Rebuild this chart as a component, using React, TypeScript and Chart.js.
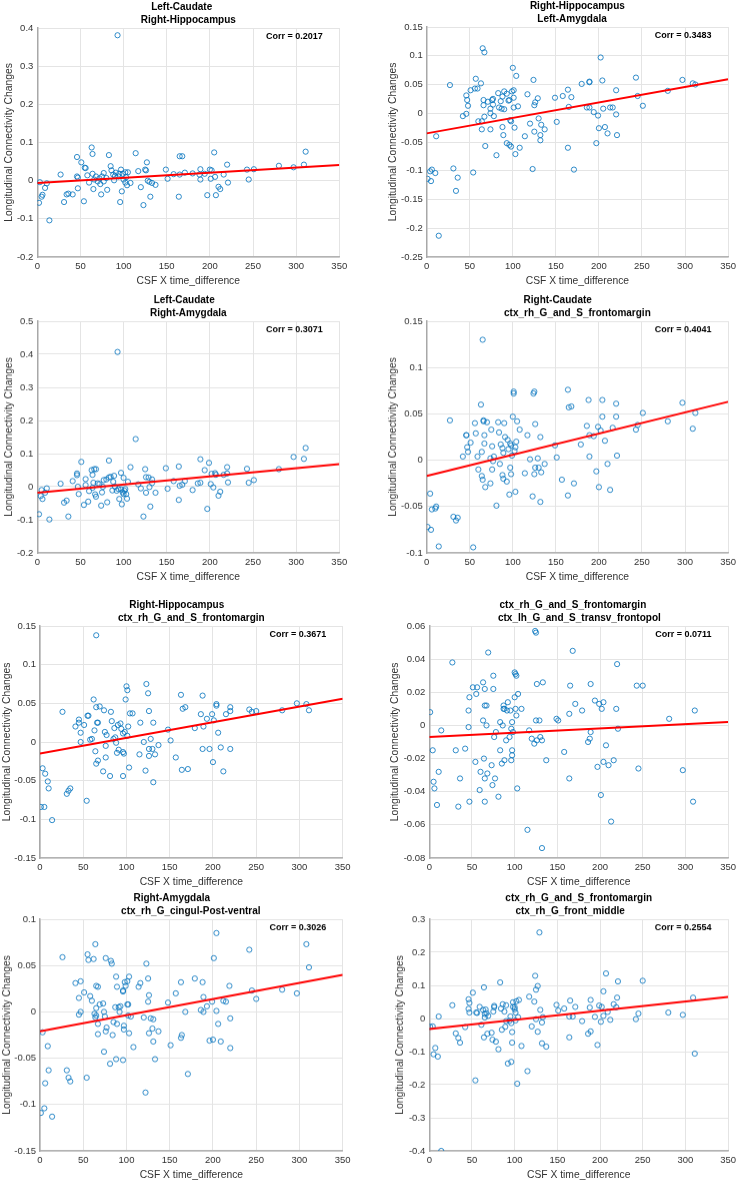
import React, { useEffect, useRef } from "react";
import { Chart, registerables } from "chart.js";

Chart.register(...registerables);

const FONT = '"Liberation Sans", Arial, Helvetica, sans-serif';
const X_LABEL = "CSF X time_difference";
const Y_LABEL = "Longitudinal Connectivity Changes";
const X_TICKS = [0, 50, 100, 150, 200, 250, 300, 350];
const FIT_X = [0, 350];

// ---------- Panel 1 ----------
const P1_TITLE = ["Left-Caudate", "Right-Hippocampus"];
const P1_CORR = "Corr = 0.2017";
const P1_Y_TICKS = [-0.2, -0.1, 0, 0.1, 0.2, 0.3, 0.4];
const P1_FIT = [-0.006, 0.041];
const P1_POINTS: [number, number][] = [
  [2, -0.058], [3, -0.004], [5, -0.042], [6, -0.037], [9, -0.019], [11, -0.007], [14, -0.104],
  [27, 0.016], [31, -0.056], [34, -0.036], [36, -0.034], [41, -0.036], [46, 0.062], [46, 0.011],
  [47, 0.008], [47, -0.02], [51, 0.048], [54, -0.054], [55, 0.034], [56, 0.033], [58, 0.014],
  [60, -0.005], [63, 0.087], [64, 0.07], [64, 0.018], [65, -0.022], [66, 0.003], [68, 0.011],
  [70, -0.002], [73, -0.009], [74, -0.036], [75, 0.011], [77, 0.02], [77, -0.002], [80, 0.007],
  [81, -0.024], [83, 0.067], [85, 0.038], [86, 0.027], [88, 0.016], [89, 0.001], [91, 0.021],
  [93, 0.381], [94, 0.011], [96, -0.056], [97, 0.029], [98, -0.028], [99, 0.018], [100, 0.003],
  [102, -0.005], [102, 0.022], [104, -0.012], [105, 0.022], [108, -0.006], [114, 0.072],
  [117, 0.025], [120, -0.017], [123, -0.064], [125, 0.029], [126, 0.027], [127, 0.048], [128, 0],
  [130, -0.003], [131, -0.042], [133, -0.006], [137, -0.011], [149, 0.029], [151, 0.005],
  [158, 0.017], [164, -0.042], [165, 0.064], [168, 0.064], [165, 0.016], [171, 0.021], [180, 0.019],
  [188, 0.016], [189, 0.03], [189, 0.003], [194, 0.018], [197, -0.038], [200, 0.029], [201, 0.005],
  [202, 0.027], [205, 0.074], [206, 0.01], [207, -0.038], [210, -0.016], [212, -0.022], [216, 0.016],
  [220, 0.042], [221, -0.005], [243, 0.029], [245, 0.003], [251, 0.03], [280, 0.039], [297, 0.035],
  [309, 0.042], [311, 0.076], [72, 0.006], [90, 0.012], [95, 0.018], [103, 0.009],
];

// ---------- Panel 2 ----------
const P2_TITLE = ["Right-Hippocampus", "Left-Amygdala"];
const P2_CORR = "Corr = 0.3483";
const P2_Y_TICKS = [-0.25, -0.2, -0.15, -0.1, -0.05, 0, 0.05, 0.1, 0.15];
const P2_FIT = [-0.035, 0.059];
const P2_POINTS: [number, number][] = [
  [1, -0.114], [4, -0.101], [5, -0.118], [6, -0.098], [10, -0.104], [11, -0.04], [14, -0.213],
  [27, 0.049], [31, -0.096], [34, -0.135], [36, -0.112], [42, -0.005], [46, 0.031], [46, -0.001],
  [47, 0.023], [48, 0.013], [51, 0.04], [54, -0.103], [56, 0.043], [57, 0.06], [59, 0.043],
  [60, -0.014], [63, 0.052], [64, -0.014], [64, -0.028], [65, 0.113], [66, 0.023], [66, 0.014],
  [67, 0.106], [68, -0.057], [67, -0.006], [71, 0.02], [74, 0], [74, -0.028], [74, 0.008],
  [76, 0.023], [77, 0.025], [77, 0.015], [78, -0.005], [81, -0.073], [83, 0.035], [84, 0.01],
  [86, 0.021], [87, 0.008], [88, 0.029], [88, -0.024], [89, -0.038], [90, 0.038], [90, 0.007],
  [93, 0.034], [93, -0.052], [95, 0.022], [96, 0.023], [96, -0.055], [97, -0.012], [98, -0.014],
  [98, -0.058], [99, 0.038], [100, 0.079], [101, 0.04], [101, 0.027], [101, 0.01], [102, -0.025],
  [103, -0.071], [104, 0.065], [106, 0.012], [108, -0.06], [114, -0.04], [117, 0.033], [120, -0.018],
  [123, -0.097], [124, 0.058], [125, -0.032], [125, 0.014], [126, 0.019], [129, 0.026], [130, -0.009],
  [132, -0.047], [132, -0.038], [133, -0.02], [137, -0.028], [149, 0.027], [151, -0.015], [158, 0.03],
  [164, 0.041], [164, -0.06], [165, 0.011], [168, 0.028], [171, -0.098], [180, 0.051], [186, 0.01],
  [189, 0.055], [189, 0.054], [189, 0.01], [194, 0.002], [197, -0.052], [199, -0.004], [200, -0.026],
  [202, 0.097], [204, 0.057], [205, 0.008], [207, -0.024], [210, -0.035], [213, 0.01], [216, 0.01],
  [220, 0.04], [220, -0.002], [221, -0.038], [243, 0.062], [245, 0.03], [251, 0.013], [280, 0.039],
  [297, 0.058], [309, 0.052], [312, 0.05],
];

// ---------- Panel 3 ----------
const P3_TITLE = ["Left-Caudate", "Right-Amygdala"];
const P3_CORR = "Corr = 0.3071";
const P3_Y_TICKS = [-0.2, -0.1, 0, 0.1, 0.2, 0.3, 0.4, 0.5];
const P3_FIT = [-0.018, 0.068];
const P3_POINTS: [number, number][] = [
  [2, -0.083], [4, -0.028], [5, -0.01], [6, -0.037], [9, -0.018], [11, -0.005], [14, -0.099],
  [27, 0.009], [31, -0.048], [34, -0.042], [36, -0.09], [41, 0.017], [46, 0.04], [46, 0.035],
  [47, 0], [48, -0.022], [51, 0.075], [54, -0.055], [56, 0.005], [56, 0.023], [59, -0.045],
  [60, -0.013], [63, 0.05], [64, -0.003], [64, 0.036], [65, 0.012], [66, 0.053], [67, -0.023],
  [68, 0.053], [68, -0.03], [70, 0.01], [74, -0.057], [75, -0.017], [76, 0], [77, 0.02], [80, 0.022],
  [81, -0.047], [83, 0.028], [83, 0.079], [85, 0.03], [87, -0.011], [88, 0.015], [89, 0.033], [90, 0],
  [93, 0.407], [94, -0.007], [95, -0.037], [97, -0.008], [97, 0.042], [98, -0.053], [99, -0.017],
  [100, 0.027], [100, -0.022], [102, -0.007], [103, -0.022], [104, -0.036], [105, 0.015], [108, 0.059],
  [114, 0.144], [117, 0.007], [120, -0.005], [123, -0.09], [125, 0.053], [126, 0.029], [126, -0.018],
  [129, 0.028], [130, -0.001], [131, -0.06], [133, 0.022], [133, 0.011], [137, -0.018], [149, 0.056],
  [151, -0.006], [158, 0.017], [164, 0.061], [164, -0.04], [165, 0.003], [168, 0.006], [171, 0.017],
  [180, -0.01], [186, 0.01], [189, 0.083], [189, 0.012], [194, 0.05], [197, -0.067], [199, 0.072],
  [201, 0.008], [202, 0.039], [204, -0.002], [206, 0.041], [207, 0.036], [210, -0.027], [212, -0.015],
  [216, 0.036], [220, 0.059], [220, 0.04], [221, 0.013], [243, 0.054], [245, 0.012], [251, 0.02],
  [280, 0.053], [297, 0.09], [309, 0.084], [311, 0.117], [72, 0.008], [92, -0.012], [101, -0.012],
];

// ---------- Panel 4 ----------
const P4_TITLE = ["Right-Caudate", "ctx_rh_G_and_S_frontomargin"];
const P4_CORR = "Corr = 0.4041";
const P4_Y_TICKS = [-0.1, -0.05, 0, 0.05, 0.1, 0.15];
const P4_FIT = [-0.017, 0.063];
const P4_POINTS: [number, number][] = [
  [1, -0.072], [4, -0.036], [5, -0.075], [6, -0.053], [10, -0.052], [11, -0.05], [14, -0.093],
  [27, 0.043], [31, -0.061], [34, -0.065], [36, -0.062], [42, 0.004], [46, 0.027], [46, 0.027],
  [47, 0.014], [48, 0.009], [51, 0.019], [54, -0.094], [56, 0.04], [57, 0.029], [59, 0.004],
  [60, -0.01], [63, 0.06], [64, 0.009], [64, -0.017], [65, -0.021], [65, 0.13], [66, 0.043],
  [66, 0.042], [67, 0.027], [67, 0.018], [68, -0.029], [70, 0.041], [74, 0.002], [74, -0.025],
  [75, 0.033], [76, 0.015], [76, -0.01], [77, -0.001], [78, 0.004], [81, -0.049], [83, 0.041],
  [84, 0.03], [85, -0.004], [86, 0.017], [88, 0.013], [88, -0.016], [89, -0.02], [89, 0.008],
  [90, 0.04], [91, 0.025], [93, -0.023], [94, 0.022], [95, 0.012], [96, -0.037], [97, 0.018],
  [97, -0.008], [98, -0.015], [98, 0.016], [99, 0.005], [100, 0.047], [101, 0.072], [101, 0.074],
  [102, 0.01], [103, 0.014], [103, -0.034], [104, 0.02], [105, 0.042], [108, 0.033], [114, -0.014],
  [117, 0.027], [120, 0.001], [123, -0.039], [124, 0.072], [125, 0.074], [125, -0.015], [126, 0.039],
  [126, -0.008], [129, 0.002], [130, -0.008], [132, -0.045], [132, 0.025], [133, -0.013], [137, -0.004],
  [149, 0.016], [151, 0.003], [157, -0.021], [164, 0.076], [164, -0.038], [165, 0.057], [168, 0.058],
  [171, -0.025], [179, 0.017], [186, 0.037], [188, 0.065], [189, 0.027], [189, 0.004], [194, 0.026],
  [197, -0.012], [199, 0.036], [200, -0.029], [202, 0.032], [204, 0.065], [204, 0.047], [207, 0.021],
  [210, -0.004], [213, -0.032], [216, 0.035], [220, 0.061], [220, 0.047], [221, 0.005], [243, 0.033],
  [245, 0.038], [251, 0.051], [280, 0.042], [297, 0.062], [309, 0.034], [312, 0.051],
];

// ---------- Panel 5 ----------
const P5_TITLE = ["Right-Hippocampus", "ctx_rh_G_and_S_frontomargin"];
const P5_CORR = "Corr = 0.3671";
const P5_Y_TICKS = [-0.15, -0.1, -0.05, 0, 0.05, 0.1, 0.15];
const P5_FIT = [-0.015, 0.056];
const P5_POINTS: [number, number][] = [
  [1, -0.084], [3, -0.034], [5, -0.084], [6, -0.041], [9, -0.051], [10, -0.06], [14, -0.101],
  [26, 0.039], [31, -0.067], [33, -0.063], [35, -0.06], [41, 0.02], [45, 0.029], [45, 0.025],
  [47, 0.012], [47, 0], [51, 0.022], [54, -0.076], [55, 0.034], [56, 0.034], [58, 0.003], [60, 0.004],
  [62, 0.055], [63, 0.015], [64, -0.012], [65, 0.045], [65, 0.138], [65, -0.028], [66, 0.025],
  [67, 0.025], [67, -0.024], [69, 0.046], [73, -0.038], [74, 0.041], [75, 0.013], [76, -0.005],
  [76, -0.02], [77, 0.009], [81, -0.044], [82, 0.039], [83, 0.027], [85, 0.004], [86, 0.018],
  [87, 0.006], [88, -0.001], [89, -0.014], [90, 0.022], [91, -0.01], [93, 0.024], [94, 0.017],
  [96, -0.044], [96, 0.011], [96, -0.013], [97, -0.015], [98, 0.013], [99, 0.055], [100, 0.072],
  [101, 0.008], [101, 0.067], [102, 0.02], [103, -0.033], [104, 0.037], [107, 0.037], [115, -0.016],
  [116, 0.025], [120, 0], [122, -0.037], [123, 0.075], [125, 0.063], [126, -0.009], [126, 0.04],
  [126, -0.018], [128, 0.004], [130, -0.009], [131, 0.025], [131, -0.052], [133, -0.016], [137, -0.004],
  [148, 0.016], [151, 0.002], [157, -0.02], [163, 0.061], [164, -0.036], [165, 0.043], [168, 0.045],
  [171, -0.035], [179, 0.018], [186, 0.036], [188, 0.06], [189, 0.02], [188, -0.009], [193, 0.03],
  [196, -0.009], [199, 0.036], [200, -0.026], [201, 0.028], [204, 0.047], [204, 0.049], [206, 0.012],
  [209, -0.007], [212, -0.038], [215, 0.036], [220, 0.045], [220, 0.04], [220, -0.009], [242, 0.042],
  [245, 0.039], [250, 0.04], [280, 0.041], [297, 0.05], [308, 0.049], [311, 0.041],
];

// ---------- Panel 6 ----------
const P6_TITLE = ["ctx_rh_G_and_S_frontomargin", "ctx_lh_G_and_S_transv_frontopol"];
const P6_CORR = "Corr = 0.0711";
const P6_Y_TICKS = [-0.08, -0.06, -0.04, -0.02, 0, 0.02, 0.04, 0.06];
const P6_FIT = [-0.007, 0.002];
const P6_POINTS: [number, number][] = [
  [1, 0.008], [4, -0.015], [5, -0.034], [6, -0.038], [9, -0.048], [11, -0.028], [14, -0.003],
  [27, 0.038], [31, -0.015], [34, -0.049], [36, -0.032], [42, -0.014], [46, 0.009], [46, -0.001],
  [47, 0.017], [47, -0.046], [51, 0.023], [54, -0.022], [55, 0.019], [56, 0.023], [60, -0.028],
  [59, -0.039], [63, 0.026], [63, 0.003], [64, -0.02], [65, 0.022], [65, -0.032], [65, 0.012],
  [65, -0.046], [67, 0.012], [67, 0], [68, -0.029], [69, 0.044], [73, -0.024], [74, -0.036],
  [75, 0.022], [75, 0.03], [76, -0.007], [77, -0.032], [78, -0.004], [81, -0.043], [83, -0.015],
  [83, 0.002], [85, -0.023], [86, 0], [87, 0.01], [87, 0.012], [88, -0.021], [88, 0.01], [90, -0.009],
  [91, 0.009], [92, 0.014], [94, -0.007], [95, 0.009], [96, -0.002], [96, -0.021], [97, -0.018],
  [97, -0.015], [97, 0.002], [98, -0.004], [100, 0.017], [100, 0.032], [101, 0.01], [101, 0.031],
  [102, 0.006], [102, 0.03], [103, -0.038], [104, 0.019], [108, 0.01], [115, -0.063], [117, -0.003],
  [120, -0.008], [123, -0.011], [124, 0.057], [125, 0.003], [125, 0.056], [126, 0.025], [126, -0.009],
  [129, 0.003], [130, -0.007], [132, -0.074], [132, -0.009], [133, 0.026], [137, -0.021], [149, 0.004],
  [151, 0.003], [158, -0.016], [164, 0.007], [164, -0.032], [165, 0.024], [168, 0.045], [171, 0.013],
  [179, 0.009], [186, -0.01], [188, -0.008], [189, 0.025], [189, -0.004], [194, 0.015], [197, -0.025],
  [199, 0.013], [202, 0.01], [201, -0.042], [204, -0.022], [204, 0.014], [207, -0.012], [210, -0.024],
  [213, -0.058], [216, -0.021], [220, 0.037], [219, 0.01], [221, -0.002], [243, 0.024], [245, -0.026],
  [250, 0.024], [281, 0.004], [297, -0.027], [309, -0.046], [311, 0.009],
];

// ---------- Panel 7 ----------
const P7_TITLE = ["Right-Amygdala", "ctx_rh_G_cingul-Post-ventral"];
const P7_CORR = "Corr = 0.3026";
const P7_Y_TICKS = [-0.15, -0.1, -0.05, 0, 0.05, 0.1];
const P7_FIT = [-0.021, 0.04];
const P7_POINTS: [number, number][] = [
  [1, -0.109], [3, -0.022], [5, -0.104], [6, -0.077], [9, -0.037], [10, -0.063], [14, -0.113],
  [26, 0.059], [31, -0.063], [33, -0.071], [35, -0.075], [41, 0.031], [45, -0.003], [45, 0.015],
  [47, 0.033], [47, 0], [51, 0.021], [54, -0.071], [55, 0.062], [56, 0.056], [58, 0.017], [60, 0.012],
  [62, 0.057], [63, -0.002], [64, -0.006], [64, 0.073], [65, 0.028], [65, 0.004], [65, -0.004],
  [67, -0.024], [67, -0.013], [67, 0.027], [69, 0.008], [74, -0.043], [73, 0.009], [74, 0],
  [75, -0.005], [76, 0.058], [76, -0.021], [77, -0.017], [81, -0.056], [82, 0.055], [83, 0.052],
  [84, -0.025], [85, -0.011], [87, 0.005], [88, 0.038], [88, -0.051], [89, 0.027], [89, -0.013],
  [91, 0.005], [92, 0], [93, 0.006], [96, -0.052], [96, 0.023], [96, 0.022], [97, -0.019], [97, -0.015],
  [98, 0.032], [99, 0.028], [101, 0.033], [101, 0.008], [102, 0.008], [103, -0.023], [102, -0.004],
  [103, 0.038], [105, -0.005], [108, -0.038], [114, 0.027], [116, 0.031], [120, -0.006], [122, -0.087],
  [123, 0.052], [125, 0.036], [125, 0.011], [126, -0.023], [126, 0.018], [128, -0.007], [130, -0.018],
  [131, -0.008], [131, -0.032], [133, -0.051], [137, -0.021], [148, 0.01], [151, -0.036], [157, 0.02],
  [163, 0.032], [163, -0.028], [164, -0.025], [168, 0], [171, -0.067], [179, 0.036], [186, 0.002],
  [188, 0.032], [189, 0.016], [189, 0], [193, 0.006], [196, -0.031], [199, 0.011], [200, -0.03],
  [201, 0.058], [204, 0.085], [204, 0.001], [206, -0.013], [209, -0.032], [212, 0.012], [215, 0.011],
  [219, 0.028], [220, -0.039], [220, -0.007], [242, 0.067], [245, 0.023], [250, 0.014], [280, 0.024],
  [297, 0.02], [308, 0.073], [311, 0.048],
];

// ---------- Panel 8 ----------
const P8_TITLE = ["ctx_rh_G_and_S_frontomargin", "ctx_rh_G_front_middle"];
const P8_CORR = "Corr = 0.2554";
const P8_Y_TICKS = [-0.4, -0.3, -0.2, -0.1, 0, 0.1, 0.2, 0.3];
const P8_FIT = [-0.032, 0.065];
const P8_POINTS: [number, number][] = [
  [1, -0.025], [4, -0.024], [5, -0.108], [7, -0.089], [10, -0.115], [11, 0.006], [14, -0.4],
  [27, 0.04], [31, -0.045], [34, -0.059], [36, -0.073], [42, -0.026], [46, 0.058], [46, 0.029],
  [47, 0.047], [47, 0.018], [51, 0.078], [54, -0.187], [55, 0.018], [56, 0.017], [59, 0.035],
  [61, -0.019], [63, 0.026], [64, -0.057], [64, 0.094], [65, 0.014], [65, 0.003], [66, 0.027],
  [68, -0.046], [67, 0.016], [69, 0.008], [73, -0.043], [74, -0.064], [75, 0.021], [76, 0.034],
  [76, 0.038], [78, -0.07], [81, -0.093], [83, 0.109], [84, 0.03], [85, -0.034], [86, 0.043],
  [88, 0.021], [89, -0.025], [90, -0.008], [90, 0.04], [92, -0.136], [94, -0.007], [95, 0.006],
  [96, -0.131], [96, -0.014], [97, -0.041], [97, -0.073], [98, 0.035], [98, 0.049], [100, 0.034],
  [100, 0.028], [101, 0.018], [101, -0.006], [102, 0.052], [103, -0.197], [104, 0.004], [105, 0.056],
  [108, -0.083], [115, -0.159], [117, 0.066], [120, -0.024], [123, 0.051], [124, 0.129], [125, -0.002],
  [125, 0.087], [127, 0.098], [127, -0.04], [129, 0.26], [130, 0.026], [132, -0.075], [132, -0.012],
  [133, 0.004], [137, -0.085], [149, 0.041], [151, 0.024], [158, 0.03], [164, -0.057], [164, 0.006],
  [165, 0.054], [168, 0.006], [171, 0.035], [179, -0.008], [186, -0.046], [188, 0.033], [189, 0.056],
  [189, -0.039], [194, 0.005], [197, -0.08], [199, 0.039], [201, -0.01], [202, 0.035], [204, 0.082],
  [204, 0.008], [207, 0.136], [209, 0.02], [212, -0.004], [216, 0.043], [219, 0.034], [220, 0.063],
  [221, 0.112], [242, -0.002], [245, 0.015], [250, 0.114], [280, 0.018], [297, 0.011], [309, 0.063],
  [311, -0.106],
];

type PanelData = {
  title: string[];
  corr: string;
  yTicks: number[];
  fit: number[];
  points: [number, number][];
};

const PANELS: PanelData[] = [
  { title: P1_TITLE, corr: P1_CORR, yTicks: P1_Y_TICKS, fit: P1_FIT, points: P1_POINTS },
  { title: P2_TITLE, corr: P2_CORR, yTicks: P2_Y_TICKS, fit: P2_FIT, points: P2_POINTS },
  { title: P3_TITLE, corr: P3_CORR, yTicks: P3_Y_TICKS, fit: P3_FIT, points: P3_POINTS },
  { title: P4_TITLE, corr: P4_CORR, yTicks: P4_Y_TICKS, fit: P4_FIT, points: P4_POINTS },
  { title: P5_TITLE, corr: P5_CORR, yTicks: P5_Y_TICKS, fit: P5_FIT, points: P5_POINTS },
  { title: P6_TITLE, corr: P6_CORR, yTicks: P6_Y_TICKS, fit: P6_FIT, points: P6_POINTS },
  { title: P7_TITLE, corr: P7_CORR, yTicks: P7_Y_TICKS, fit: P7_FIT, points: P7_POINTS },
  { title: P8_TITLE, corr: P8_CORR, yTicks: P8_Y_TICKS, fit: P8_FIT, points: P8_POINTS },
];

// Layout (page pixels): plot rectangle, column origin, title line offsets, y-label offset
type PanelLayout = { colX: number; l: number; t: number; r: number; b: number; dx: number[]; yl: number };
const LAYOUT: PanelLayout[] = [
  { colX: 0, l: 37.3, t: 27.5, r: 339.3, b: 257.3, dx: [-6.6, 0], yl: 28 },
  { colX: 370, l: 426.7, t: 26.7, r: 729.3, b: 257.3, dx: [0, -5.3], yl: 33.4 },
  { colX: 0, l: 37.3, t: 321, r: 339.3, b: 552.7, dx: [-4.1, 0], yl: 28 },
  { colX: 370, l: 426.7, t: 321, r: 729.3, b: 552.7, dx: [-19.7, 0], yl: 33.4 },
  { colX: 0, l: 40, t: 625.7, r: 342.7, b: 857.7, dx: [-14.6, 0], yl: 32.7 },
  { colX: 370, l: 429.3, t: 625.7, r: 731.7, b: 857.7, dx: [-5.8, 0.7], yl: 34.3 },
  { colX: 0, l: 40, t: 919.3, r: 342.7, b: 1151, dx: [-19.6, -0.5], yl: 32.7 },
  { colX: 370, l: 429.3, t: 919.3, r: 731.7, b: 1151, dx: [0, -8.5], yl: 29.3 },
];

const MARGIN_T = 42;
const MARGIN_B = 30;
const COL_W = 370;

const fmt = (v: number) => String(parseFloat(v.toFixed(4)));

function Panel({ data, lay }: { data: PanelData; lay: PanelLayout }) {
  const ref = useRef<HTMLCanvasElement | null>(null);
  const canvasTop = lay.t - MARGIN_T;
  const canvasH = lay.b - lay.t + MARGIN_T + MARGIN_B;

  useEffect(() => {
    if (!ref.current) return;
    const yMin = data.yTicks[0];
    const yMax = data.yTicks[data.yTicks.length - 1];
    const textPlugin = {
      id: "panelText",
      afterDraw(chart: any) {
        const { ctx, chartArea: a } = chart;
        const cx = (a.left + a.right) / 2;
        ctx.save();
        ctx.textBaseline = "middle";
        ctx.textAlign = "center";
        ctx.fillStyle = "#000";
        ctx.font = `bold 10px ${FONT}`;
        ctx.fillText(data.title[0], cx + lay.dx[0], a.top - 21);
        ctx.fillText(data.title[1], cx + lay.dx[1], a.top - 7.5);
        ctx.font = `bold 9px ${FONT}`;
        ctx.textAlign = "right";
        ctx.fillText(data.corr, a.right - 16.5, a.top + 9);
        ctx.fillStyle = "#333";
        ctx.font = `10.3px ${FONT}`;
        ctx.textAlign = "center";
        ctx.fillText(X_LABEL, cx, a.bottom + 24);
        ctx.translate(a.left - lay.yl, (a.top + a.bottom) / 2);
        ctx.rotate(-Math.PI / 2);
        ctx.fillText(Y_LABEL, 0, 0);
        ctx.restore();
      },
    };

    const chart = new Chart(ref.current, {
      type: "scatter",
      data: {
        datasets: [
          {
            type: "line",
            data: FIT_X.map((x, i) => ({ x, y: data.fit[i] })),
            borderColor: "#ff0000",
            borderWidth: 2,
            pointRadius: 0,
            fill: false,
            tension: 0,
          } as any,
          {
            type: "scatter",
            data: data.points.map(([x, y]) => ({ x, y })),
            pointStyle: "circle",
            pointRadius: 2.6,
            borderWidth: 0.9,
            borderColor: "rgba(0,114,189,0.9)",
            backgroundColor: "rgba(0,0,0,0)",
          },
        ],
      },
      options: {
        animation: false,
        responsive: false,
        devicePixelRatio: 1,
        layout: {
          padding: { top: MARGIN_T, left: 0, bottom: 0, right: lay.colX + COL_W - lay.r },
        },
        plugins: { legend: { display: false }, tooltip: { enabled: false }, title: { display: false } },
        scales: {
          x: {
            type: "linear",
            min: 0,
            max: 350,
            afterBuildTicks: (s: any) => {
              s.ticks = X_TICKS.map((v) => ({ value: v }));
            },
            afterFit: (s: any) => {
              s.height = MARGIN_B;
            },
            ticks: {
              autoSkip: false,
              maxRotation: 0,
              padding: 4,
              color: "#333",
              font: { family: FONT, size: 9.5 },
              callback: (v: any) => fmt(Number(v)),
            },
            grid: { color: "#e4e4e4", lineWidth: 1, drawTicks: false },
            border: { display: true, color: "#b3b3b3", width: 1.5 },
          },
          y: {
            type: "linear",
            min: yMin,
            max: yMax,
            afterBuildTicks: (s: any) => {
              s.ticks = data.yTicks.map((v) => ({ value: v }));
            },
            afterFit: (s: any) => {
              s.width = lay.l - lay.colX;
            },
            ticks: {
              autoSkip: false,
              padding: 4,
              color: "#333",
              font: { family: FONT, size: 9.5 },
              callback: (v: any) => fmt(Number(v)),
            },
            grid: { color: "#e4e4e4", lineWidth: 1, drawTicks: false },
            border: { display: true, color: "#a8a8a8", width: 1.5 },
          },
        },
      } as any,
      plugins: [textPlugin],
    });
    return () => chart.destroy();
  }, [data, lay]);

  return (
    <canvas
      ref={ref}
      width={COL_W}
      height={canvasH}
      style={{ position: "absolute", left: lay.colX, top: canvasTop, width: COL_W, height: canvasH }}
    />
  );
}

export default function App() {
  return (
    <div
      style={{
        position: "fixed",
        left: 0,
        top: 0,
        width: 740,
        height: 1182,
        background: "#fff",
        overflow: "hidden",
      }}
    >
      {PANELS.map((p, i) => (
        <Panel key={i} data={p} lay={LAYOUT[i]} />
      ))}
    </div>
  );
}
